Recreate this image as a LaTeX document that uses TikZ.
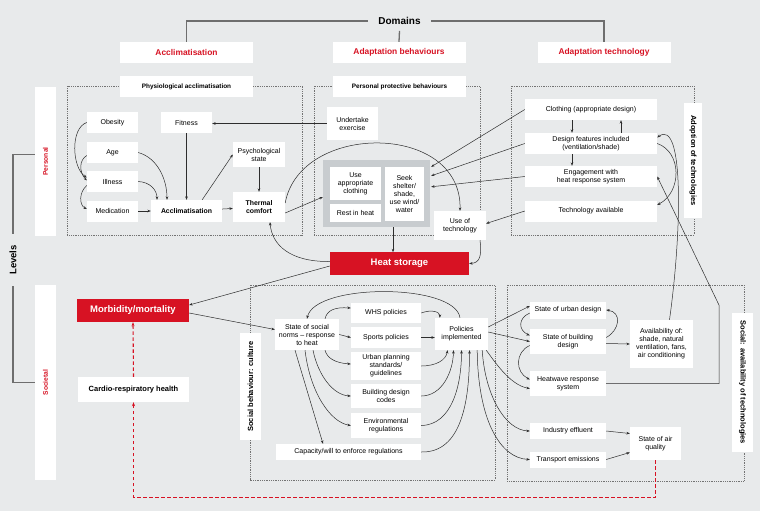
\documentclass[tikz,border=0pt]{standalone}
\usepackage{fontspec}
\setmainfont{Liberation Sans}
\usetikzlibrary{arrows.meta,calc}
\definecolor{bgc}{RGB}{232,234,235}
\definecolor{redc}{RGB}{215,18,35}
\definecolor{greyc}{RGB}{200,204,207}
\definecolor{linec}{RGB}{45,45,45}
\definecolor{dotc}{RGB}{115,115,115}
\definecolor{brkc}{RGB}{110,110,110}
\begin{document}
\begin{tikzpicture}[x=1pt,y=-1pt,
  bx/.style={fill=white, inner sep=0pt, align=center, text=black, font=\fontsize{7}{8}\selectfont},
  bbx/.style={bx, font=\fontsize{6.9}{8}\selectfont\bfseries},
  sz/.style 2 args={minimum width=#1pt, minimum height=#2pt},
  hdr/.style={fill=white, inner sep=0pt, text=redc, font=\fontsize{8.4}{10}\selectfont\bfseries, minimum width=133pt, minimum height=21pt},
  subhdr/.style={fill=white, inner sep=0pt, text=black, font=\fontsize{6.4}{7.5}\selectfont\bfseries, minimum width=133pt, minimum height=21pt},
  redbox/.style={fill=redc, text=white, inner sep=0pt, font=\fontsize{9.5}{11}\selectfont\bfseries},
  lbl/.style={fill=white, inner sep=0pt, font=\fontsize{7.5}{9}\selectfont\bfseries},
  arr/.style={draw=linec, line width=0.5pt, -{Stealth[length=3.4pt,width=2.6pt]}},
  dotbox/.style={draw=dotc, line width=0.7pt, dash pattern=on 0.7pt off 1.1pt},
  brk/.style={draw=brkc, line width=1.3pt},
  rdash/.style={draw=redc, line width=1.1pt, dash pattern=on 3.5pt off 2.5pt, -{Stealth[length=4pt,width=3pt]}}
]
\fill[bgc] (0,0) rectangle (760,511);
\useasboundingbox (0,0) rectangle (760,511);

% dotted region frames
\draw[dotbox] (67,86) rectangle (302,235);
\draw[dotbox] (314,86) rectangle (480,235);
\draw[dotbox] (511,86) rectangle (694,235);
\draw[dotbox] (250,285) rectangle (495,480);
\draw[dotbox] (507,285) rectangle (744,481);

% domains
\node[font=\fontsize{10}{12}\selectfont\bfseries, inner xsep=10pt, inner ysep=6pt] (dom) at (399.5,21) {Domains};
\node[hdr] (acc) at (186.5,52.5) {Acclimatisation};
\node[hdr] (beh) at (399,52.5) {Adaptation behaviours};
\node[hdr] (tech) at (604,52.5) {Adaptation technology};
\draw[brk] (acc.north) |- (dom.west);
\draw[brk] (tech.north) |- (dom.east);
\draw[brk] (dom.south) -- (beh.north);
\node[subhdr] (phys) at (186.5,86.5) {Physiological acclimatisation};
\node[subhdr] (ppb) at (399.5,86.5) {Personal protective behaviours};

% levels
\node[lbl, font=\fontsize{6.7}{8}\selectfont\bfseries, text=redc, sz={21}{149}] (pers) at (45.5,161.5) {\rotatebox{90}{Personal}};
\node[lbl, font=\fontsize{6.7}{8}\selectfont\bfseries, text=redc, sz={21}{195}] (soc) at (45.5,382.5) {\rotatebox{90}{Societal}};
\node[font=\fontsize{9.5}{11}\selectfont\bfseries, inner sep=0pt] (lev) at (13,260) {\rotatebox{90}{Levels}};
\draw[brk] ([yshift=7pt]pers.west) -| ([yshift=11pt]lev.north);
\draw[brk] (soc.west) -| ([yshift=-11pt]lev.south);

% box 1
\node[bx, sz={51}{21}] (obe) at (112.5,122.5) {Obesity};
\node[bx, sz={51}{21}] (age) at (112.5,152.5) {Age};
\node[bx, sz={51}{21}] (ill) at (112.5,181.5) {Illness};
\node[bx, sz={51}{21}] (med) at (112.5,211) {Medication};
\node[bx, sz={51}{21}] (fit) at (186.5,122.5) {Fitness};
\node[bbx, sz={71}{22}] (accl) at (186.5,211) {Acclimatisation};
\node[bx, sz={52}{25}] (psy) at (259,154.5) {Psychological\\state};
\node[bbx, sz={52}{30}] (tc) at (259,207) {Thermal\\comfort};

% box 2
\node[bx, sz={51}{33}] (ue) at (352.5,123.5) {Undertake\\exercise};
\node[fill=greyc, inner sep=0pt, sz={107}{67}] (grey) at (376.5,193.5) {};
\node[bx, sz={51}{33}] (uac) at (355.5,183.5) {Use\\appropriate\\clothing};
\node[bx, sz={51}{18}] (rih) at (355.5,213) {Rest in heat};
\node[bx, sz={39}{54}] (seek) at (404.5,194) {Seek\\shelter/\\shade,\\use wind/\\water};
\node[bx, sz={52}{29}] (uot) at (460,225.5) {Use of\\technology};
\node[redbox, sz={139}{23}] (hs) at (399.5,263.5) {Heat storage};

% box 3
\node[bx, sz={132}{21}] (clo) at (591,109.5) {Clothing (appropriate design)};
\node[bx, sz={132}{21}] (dfi) at (591,143.5) {Design features included\\(ventilation/shade)};
\node[bx, sz={132}{21}] (eng) at (591,176.5) {Engagement with\\heat response system};
\node[bx, sz={132}{21}] (tav) at (591,211) {Technology available};
\node[lbl, sz={18}{115}] (adopt) at (693,160.5) {\rotatebox{-90}{Adoption of technologies}};

% societal
\node[redbox, sz={112}{23}] (mm) at (133,310.5) {Morbidity/mortality};
\node[bbx, font=\fontsize{7.5}{9}\selectfont\bfseries, sz={111}{25}] (crh) at (133.5,389.5) {Cardio-respiratory health};
\node[lbl, sz={21}{107}] (sbc) at (250.5,386.5) {\rotatebox{90}{Social behaviour: culture}};
\node[bx, sz={64}{31}] (norms) at (307,334.5) {State of social\\norms – response\\to heat};
\node[bx, sz={70}{20}] (whs) at (386,313) {WHS policies};
\node[bx, sz={70}{21}] (spo) at (386,337.5) {Sports policies};
\node[bx, sz={70}{28}] (urb) at (386,366) {Urban planning\\standards/\\guidelines};
\node[bx, sz={70}{24}] (bdc) at (386,396) {Building design\\codes};
\node[bx, sz={70}{25}] (env) at (386,425.5) {Environmental\\regulations};
\node[bx, sz={145}{16}] (cap) at (348.5,452) {Capacity/will to enforce regulations};
\node[bx, sz={53}{32}] (pol) at (461.5,334) {Policies\\implemented};
\node[bx, sz={76}{17}] (sud) at (568,310) {State of urban design};
\node[bx, sz={76}{25}] (sbd) at (568,341.5) {State of building\\design};
\node[bx, sz={76}{25}] (hrs) at (568,383.5) {Heatwave response\\system};
\node[bx, sz={63}{48}] (avl) at (661.5,344) {Availability of:\\shade, natural\\ventilation, fans,\\air conditioning};
\node[bx, sz={76}{16}] (ind) at (568,431) {Industry effluent};
\node[bx, sz={76}{16}] (tre) at (568,459.5) {Transport emissions};
\node[bx, sz={51}{33}] (saq) at (655.5,443.5) {State of air\\quality};
\node[lbl, sz={21}{139}] (sat) at (742.5,382.5) {\rotatebox{-90}{Social: availability of technologies}};

% box 1 arrows
\draw[arr] (obe.west) .. controls (70,128) and (72,168) .. ([yshift=4pt]ill.west);
\draw[arr] ([yshift=-3pt]age.west) .. controls (79,160) and (79,172) .. ([yshift=1pt]ill.west);
\draw[arr] ([yshift=-4pt]ill.west) .. controls (79,192) and (79,205) .. ([yshift=2pt]med.west);
\draw[arr] (age.east) .. controls (158,158) and (167,180) .. ([xshift=-19.5pt]accl.north);
\draw[arr] (ill.east) .. controls (150,182) and (157,190) .. ([xshift=-29.5pt]accl.north);
\draw[arr] (med) -- (accl);
\draw[arr] (fit) -- (accl);
\draw[arr] ([xshift=-20pt]accl.north east) -- (psy.west);
\draw[arr] (accl) -- (tc);
\draw[arr] (psy) -- (tc);
\draw[arr] (ue.west) -- (fit.east |- ue.west);

% box 2 arrows
\draw[arr] ([yshift=-6pt]tc.east) -- ([yshift=-3.5pt]grey.west);
\draw[arr] ([yshift=4pt]tc.east) .. controls (300,122) and (462,122) .. (uot.north);
\draw[arr] ([xshift=16.5pt]grey.south) -- ++(0,25);
\draw[arr] ([xshift=20pt]uot.south) .. controls (482,255) and (480,263) .. (hs.east);
\draw[arr] ([yshift=2pt]hs.west) .. controls (290,262) and (272,245) .. ([xshift=11pt]tc.south);
\draw[arr] ([yshift=-2.5pt]hs.west) -- ([yshift=5.5pt]mm.east);

% technology -> behaviours
\draw[arr] (clo.west) -- ([xshift=1pt,yshift=-7pt]grey.north east);
\draw[arr] (dfi.west) -- ([xshift=1pt,yshift=-16pt]grey.north east);
\draw[arr] (eng.west) -- ([xshift=1pt,yshift=-27pt]grey.north east);
\draw[arr] (tav.west) -- ([yshift=2pt]uot.east);

% box 3 internal
\draw[arr] ([xshift=-19pt]clo.south) -- ([xshift=-19pt]dfi.north);
\draw[arr] ([xshift=30pt]dfi.north) -- ([xshift=30pt]clo.south);
\draw[arr] ([xshift=-19pt]dfi.south) -- ([xshift=-19pt]eng.north);
\draw[arr] (dfi.east) .. controls (682,152) and (682,192) .. ([yshift=6pt]tav.east);

% societal arrows
\draw[arr] ([yshift=-2.5pt]mm.east) -- ([yshift=5pt]norms.west);
\draw[rdash] (crh.north) -- (mm.south);
\draw[rdash] (saq.south) -- ++(0,37) -| (crh.south);

\draw[arr] ([xshift=18pt]norms.north) .. controls (327,310) and (335,307) .. ([yshift=5pt]whs.west);
\draw[arr] (norms.east) -- (spo.west);
\draw[arr] ([xshift=18pt]norms.south) .. controls (327,358) and (335,363) .. ([yshift=2pt]urb.west);
\draw[arr] ([xshift=6pt]norms.south) .. controls (318,375) and (333,395) .. (bdc.west);
\draw[arr] ([xshift=-2pt]norms.south) .. controls (310,392) and (330,422) .. (env.west);
\draw[arr] ([xshift=-12pt]norms.south) -- ([xshift=-25.5pt]cap.north);

\draw[arr] (whs.east) .. controls (432,309) and (440,312) .. ([xshift=5pt]pol.north west);
\draw[arr] (spo.east) -- (pol.west |- spo.east);
\draw[arr] (urb.east) .. controls (436,366) and (446,360) .. ([xshift=-14pt]pol.south);
\draw[arr] (bdc.east) .. controls (442,396) and (453,372) .. ([xshift=-8pt]pol.south);
\draw[arr] (env.east) .. controls (452,425) and (461.5,385) .. (pol.south);
\draw[arr] (cap.east) .. controls (462,453) and (469.5,400) .. ([xshift=8pt]pol.south);
\draw[arr] ([xshift=-1.5pt]pol.north) .. controls (455,283) and (315,283) .. (norms.north);

\draw[arr] ([yshift=7pt]pol.east) -- ([yshift=4pt]sud.west);
\draw[arr] ([yshift=2pt]pol.east) -- (sbd.west);
\draw[arr] ([xshift=-2pt]pol.south east) .. controls (495,362) and (510,385) .. ([yshift=-5pt]hrs.west);
\draw[arr] ([xshift=-6pt]pol.south east) .. controls (485,395) and (505,430) .. (ind.west);
\draw[arr] ([xshift=-11pt]pol.south east) .. controls (478,420) and (500,458) .. (tre.west);

\draw[arr] ([yshift=-3pt]sud.west) .. controls (518,318) and (518,330) .. ([yshift=6pt]sbd.west);
\draw[arr] ([yshift=-4pt]sbd.west) .. controls (515,352) and (515,372) .. ([yshift=4pt]hrs.west);
\draw[arr] ([yshift=4pt]sbd.east) .. controls (620,330) and (622,312) .. (sud.east);
\draw[arr] ([yshift=-2pt]sbd.east) -- (avl.west);
\draw[arr] (hrs.east) -- ++(113,0) -- ++(0,-78) -- (eng.east);
\draw[arr] ([xshift=8pt]avl.north) .. controls (682,230) and (684,118) .. ([yshift=6pt]dfi.east);
\draw[arr] (ind.east) -- ([yshift=10pt]saq.west);
\draw[arr] (tre.east) -- ([yshift=-9pt]saq.west);
\end{tikzpicture}
\end{document}
